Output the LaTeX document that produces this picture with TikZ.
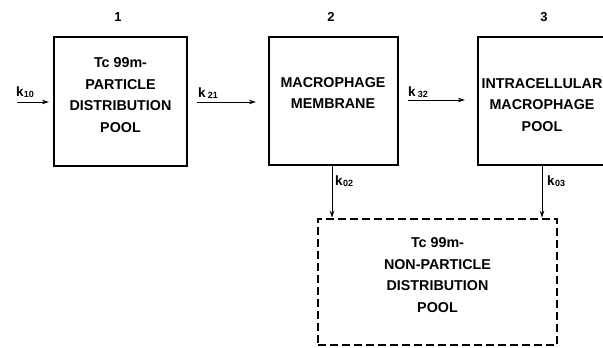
\documentclass[tikz,border=0pt]{standalone}
\usepackage{fontspec}
\setmainfont{Liberation Sans}
\usetikzlibrary{arrows.meta}
\newcommand\kk[2]{k\kern#1\raisebox{-0.5pt}{\fontsize{9}{9}\selectfont #2}}
\tikzset{
  x=1pt,y=-1pt,
  poolbox/.style={draw,line width=2.2pt,inner sep=0pt},
  dashbox/.style={draw,line width=2.5pt,dash pattern=on 8pt off 4pt,inner sep=0pt},
  boxtext/.style={align=center,font=\bfseries\fontsize{14.3}{21.5}\selectfont,inner sep=0pt},
  numtext/.style={font=\bfseries\fontsize{13}{13}\selectfont,inner sep=0pt},
  ktext/.style={font=\bfseries\fontsize{13.5}{13.5}\selectfont,inner sep=0pt},
  flow/.style={line width=1pt,-{Stealth[length=7pt,width=4.5pt]}}
}
\begin{document}
\begin{tikzpicture}
\useasboundingbox (0,0) rectangle (603,348);
\node[poolbox,minimum width=133pt,minimum height=129pt] (b1) at (120.5,101.5) {};
\node[poolbox,minimum width=129pt,minimum height=128pt] (b2) at (333.5,101) {};
\node[poolbox,minimum width=130pt,minimum height=128pt] (b3) at (543,101) {};
\node[dashbox,minimum width=239pt,minimum height=126pt] (b4) at (437.5,282) {};

\node[boxtext] (t1) at (120.5,95) {Tc 99m-\\PARTICLE\\DISTRIBUTION\\POOL};
\node[boxtext] (t2) at (333,93) {MACROPHAGE\\MEMBRANE};
\node[boxtext] (t3) at (542,105) {INTRACELLULAR\\MACROPHAGE\\POOL};
\node[boxtext] (t4) at (437.5,275) {Tc 99m-\\NON-PARTICLE\\DISTRIBUTION\\POOL};

\node[numtext] (n1) at (118,17) {1};
\node[numtext] (n2) at (331,17) {2};
\node[numtext] (n3) at (544,17) {3};

\coordinate (in) at (17,102);
\draw[flow] (in) -- ([xshift=-4pt]b1.west |- in);
\node[ktext] (k10) at (25,92) {\kk{0.3pt}{10}};

\draw[flow] ([xshift=9pt]b1.east |- in) -- ([xshift=-12pt]b2.west |- in);
\node[ktext] (k21) at (208,93) {\kk{2pt}{21}};

\coordinate (m) at (0,100);
\draw[flow] ([xshift=9pt]b2.east |- m) -- ([xshift=-12pt]b3.west |- m);
\node[ktext] (k32) at (418,92) {\kk{2pt}{32}};

\draw[flow] ([xshift=-1.5pt]b2.south) -- ([xshift=-1.5pt]b2.south |- b4.north);
\node[ktext,anchor=west] (k02) at (335,181) {\kk{0.3pt}{02}};
\draw[flow] ([xshift=-1pt]b3.south) -- ([xshift=-1pt]b3.south |- b4.north);
\node[ktext,anchor=west] (k03) at (547,181) {\kk{0.3pt}{03}};
\end{tikzpicture}
\end{document}
